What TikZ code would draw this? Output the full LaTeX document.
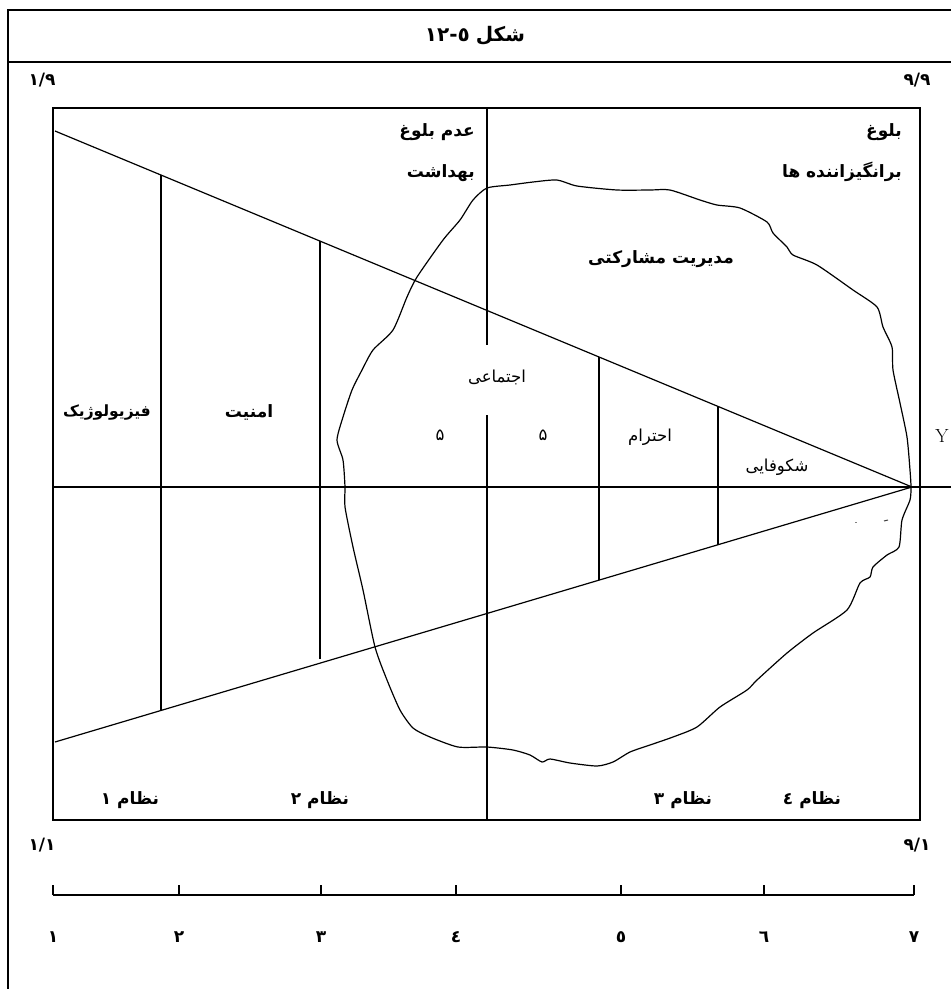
\documentclass[tikz,border=0pt]{standalone}
\usepackage{fontspec}
\TeXXeTstate=1
\newfontfamily\arabicfont[Script=Arabic]{DejaVu Sans}
\begin{document}
\begin{tikzpicture}[x=1pt,y=-1pt,
  frame/.style={line width=1.8pt},
  boxline/.style={line width=1.6pt},
  thin/.style={line width=1.2pt},
  lbl/.style={font=\arabicfont\bfseries\fontsize{17}{19}\selectfont, inner sep=0pt},
  rlbl/.style={font=\arabicfont\fontsize{16.5}{18}\selectfont, inner sep=0pt},
  num/.style={font=\arabicfont\bfseries\fontsize{17}{19}\selectfont, inner sep=0pt}]
\useasboundingbox (0,0) rectangle (951,989);
% outer frame
\coordinate (ftl) at (8,10);
\coordinate (ftr) at (951,10);
\coordinate (fbl) at (8,989);
\coordinate (dl) at (8,62);
\coordinate (dr) at (951,62);
\draw[frame] (fbl) -- (ftl) -- (ftr);
\draw[frame] (dl) -- (dr);
\node[lbl,font=\arabicfont\bfseries\fontsize{20}{22}\selectfont] (title) at (475,36)
  {\hbox{١٢}\hbox{-}\hbox{٥}\hskip0.3em\hbox{شکل}};
\node[num] (c19) at (42,80) {۱/۹};
\node[num] (c99) at (917,80) {۹/۹};
\node[num] (c11) at (42,845) {۱/۱};
\node[num] (c91) at (917,845) {۹/۱};
% inner box
\draw[boxline] (53,108) rectangle (920,820);
% middle vertical
\coordinate (mt) at (487,108);
\coordinate (mg1) at (487,345);
\coordinate (mg2) at (487,415);
\coordinate (mb) at (487,820);
\draw[boxline] (mt) -- (mg1);
\draw[boxline] (mg2) -- (mb);
% horizontal axis
\coordinate (hl) at (53,487);
\coordinate (hr) at (951,487);
\draw[boxline] (hl) -- (hr);
% diagonals
\coordinate (ua) at (55,131);
\coordinate (la) at (55,742);
\coordinate (apex) at (912,487);
\draw[thin] (ua) -- (apex) -- (la);
% verticals between diagonals
\coordinate (v1t) at (161,175);   \coordinate (v1b) at (161,710);
\coordinate (v2t) at (320,241);   \coordinate (v2b) at (320,659);
\coordinate (v3t) at (599,357);   \coordinate (v3b) at (599,580);
\coordinate (v4t) at (718,406);   \coordinate (v4b) at (718,545);
\draw[thin] (v1t) -- (v1b);
\draw[thin] (v2t) -- (v2b);
\draw[thin] (v3t) -- (v3b);
\draw[thin] (v4t) -- (v4b);
% blob
\draw[thin] plot[smooth cycle, tension=0.4] coordinates {
(487,188) (510,185) (533,182) (557,180) (577,186) (617,190) (650,190) (670,190)
(700,200) (717,205) (740,208) (767,222) (773,233) (787,247) (793,255) (817,265)
(853,290) (877,307) (883,327) (892,347) (893,370) (900,403) (907,437) (910,470)
(911,487) (910,500) (902,520) (899,547) (887,555) (873,567) (870,577) (860,583)
(847,610) (813,633) (787,653) (757,680) (747,690) (720,707) (697,727) (673,737)
(650,745) (630,752) (613,762) (597,766) (570,763) (550,759) (542,762) (530,755)
(513,750) (487,747) (458,747) (430,737) (413,728) (400,710) (387,680) (375,647)
(363,590) (353,547) (345,507) (345,487) (343,460) (337,440) (343,417) (352,390)
(362,370) (373,350) (393,330) (407,297) (417,277) (443,240) (460,220) (473,200)};
% tiny specks
\coordinate (sp1a) at (855,522); \coordinate (sp1b) at (857,522);
\coordinate (sp2a) at (884,521); \coordinate (sp2b) at (888,520);
\draw[line width=0.8pt,gray] (sp1a) -- (sp1b);
\draw[line width=1pt,darkgray] (sp2a) -- (sp2b);
% labels
\node[lbl,anchor=east] (adam) at (475,132) {\beginR عدم بلوغ\endR};
\node[lbl,anchor=east] (behd) at (475,173) {\beginR بهداشت\endR};
\node[lbl,anchor=east] (bolugh) at (902,132) {\beginR بلوغ\endR};
\node[lbl,anchor=east] (bara) at (902,172) {\beginR برانگیزاننده ها\endR};
\node[lbl] (mod) at (661,259) {\beginR مدیریت مشارکتی\endR};
\node[rlbl] (ejt) at (497,377) {\beginR اجتماعی\endR};
\node[rlbl] (f1) at (440,435) {۵};
\node[rlbl] (f2) at (543,435) {۵};
\node[rlbl] (eht) at (650,437) {\beginR احترام\endR};
\node[rlbl] (shk) at (777,467) {\beginR شکوفایی\endR};
\node[lbl,font=\arabicfont\bfseries\fontsize{15.5}{18}\selectfont] (fiz) at (107,412) {\beginR فیزیولوژیک\endR};
\node[lbl] (amn) at (249,412) {\beginR امنیت\endR};
\node[font=\fontsize{19}{21}\selectfont, inner sep=0pt] (Y) at (942,436) {Y};
\node[lbl] (n1) at (130,800) {\beginR نظام ۱\endR};
\node[lbl] (n2) at (320,800) {\beginR نظام ۲\endR};
\node[lbl] (n3) at (683,800) {\beginR نظام ۳\endR};
\node[lbl] (n4) at (812,800) {\beginR نظام ٤\endR};
% scale
\coordinate (s0) at (53,895);
\coordinate (s6) at (914,895);
\draw[thin] (s0) -- (s6);
\foreach \x/\n [count=\i] in {53/۱,179/۲,321/۳,456/٤,621/٥,764/٦,914/۷}{
  \draw[thin] (\x,895) -- (\x,885);
  \node[num] (t\i) at (\x,937) {\n};
}
\end{tikzpicture}
\end{document}
